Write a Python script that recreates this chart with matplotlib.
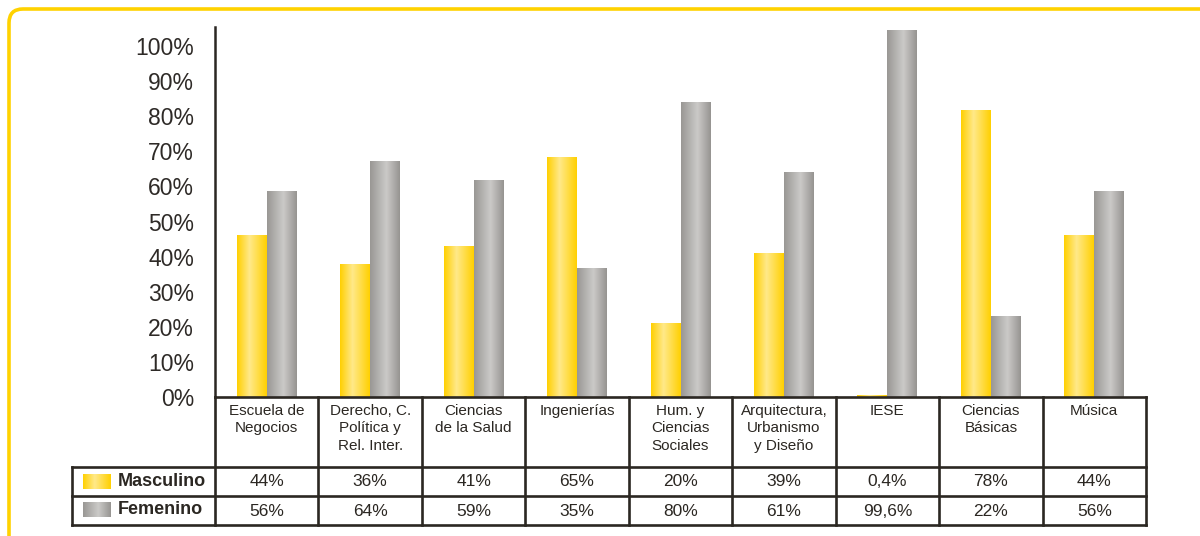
""" Distribución por sexo según facultad: barras con degradado y tabla de datos.
"""
import numpy as np
import matplotlib.pyplot as plt
from matplotlib.colors import LinearSegmentedColormap
from matplotlib.patches import FancyBboxPatch
from matplotlib.lines import Line2D
from matplotlib.transforms import IdentityTransform, blended_transform_factory

categories = ["Escuela de\nNegocios", "Derecho, C.\nPolítica y\nRel. Inter.",
              "Ciencias\nde la Salud", "Ingenierías", "Hum. y\nCiencias\nSociales",
              "Arquitectura,\nUrbanismo\ny Diseño", "IESE", "Ciencias\nBásicas", "Música"]
masculino = [44, 36, 41, 65, 20, 39, 0.4, 78, 44]
femenino = [56, 64, 59, 35, 80, 61, 99.6, 22, 56]
masculino_labels = ["44%", "36%", "41%", "65%", "20%", "39%", "0,4%", "78%", "44%"]
femenino_labels = ["56%", "64%", "59%", "35%", "80%", "61%", "99,6%", "22%", "56%"]
series_names = ["Masculino", "Femenino"]
y_ticks = [0, 10, 20, 30, 40, 50, 60, 70, 80, 90, 100]

# the original's tick labels sit a little low compared to the bars
TICK_SCALE = 1.048

W, H = 1200, 536
DARK = "#2b2722"
SANS = ["Liberation Sans", "DejaVu Sans"]

yellow_cmap = LinearSegmentedColormap.from_list(
    "amarillo", [(0, "#FFD000"), (0.42, "#FFE98A"), (1, "#FFD000")])
gray_cmap = LinearSegmentedColormap.from_list(
    "gris", [(0, "#999794"), (0.55, "#CBCAC8"), (1, "#969491")])
grad = np.linspace(0, 1, 256).reshape(1, -1)


def fy(y_px: float) -> float:
    """ Pixel row measured from the top -> figure fraction. """
    return 1 - y_px / H


def fill_gradient(ax, bars, cmap) -> None:
    """ Paint each bar with a horizontal cylinder gradient. """
    for bar in bars:
        x0, w, h = bar.get_x(), bar.get_width(), bar.get_height()
        ax.imshow(grad, extent=(x0, x0 + w, 0, h), aspect="auto",
                  cmap=cmap, zorder=2, interpolation="bilinear")


fig = plt.figure(figsize=(W / 100, H / 100), dpi=100)
fig.patch.set_facecolor("white")

# yellow rounded frame, running off the right and bottom edges
fig.patches.append(FancyBboxPatch(
    (9, -40), W + 40, H - 9 + 40, boxstyle="round,pad=0,rounding_size=14",
    transform=IdentityTransform(), facecolor="none", edgecolor="#FFD200",
    linewidth=2.6, zorder=0))

ax = fig.add_axes([215 / W, fy(397), 931 / W, 370 / H])
x = np.arange(len(categories))
bw = 0.29
m_bars = ax.bar(x - bw / 2, masculino, bw, color="none")
f_bars = ax.bar(x + bw / 2, femenino, bw, color="none")
fill_gradient(ax, m_bars, yellow_cmap)
fill_gradient(ax, f_bars, gray_cmap)

ax.set_xlim(-0.5, len(categories) - 0.5)
ax.set_ylim(0, 100.6)
ax.set_yticks([t / TICK_SCALE for t in y_ticks])
ax.set_yticklabels([f"{t}%" for t in y_ticks], fontsize=16.5,
                   family=SANS, color="#2e2a27")
ax.tick_params(axis="y", length=0, pad=15)
ax.set_xticks([])
for side in ("top", "right", "bottom"):
    ax.spines[side].set_visible(False)
ax.spines["left"].set_color(DARK)
ax.spines["left"].set_linewidth(1.8)
ax.patch.set_alpha(0)

# data table below the axis
col_px = [ax.transData.transform((i - 0.5, 0))[0] for i in range(len(categories) + 1)]
left_px = 72
row_px = [397, 467, 496, 525]


def hline(x0, x1, y):
    fig.add_artist(Line2D([x0 / W, x1 / W], [fy(y), fy(y)], color=DARK, lw=1.9,
                          solid_capstyle="projecting"))


def vline(xp, y0, y1):
    fig.add_artist(Line2D([xp / W, xp / W], [fy(y0), fy(y1)], color=DARK, lw=1.9,
                          solid_capstyle="projecting"))


hline(col_px[0], col_px[-1], row_px[0])
for y in row_px[1:]:
    hline(left_px, col_px[-1], y)
for xp in col_px:
    vline(xp, row_px[0], row_px[-1])
vline(left_px, row_px[1], row_px[-1])

cell = blended_transform_factory(ax.transData, fig.transFigure)
for i, name in enumerate(categories):
    fig.text(i, fy(404), name, transform=cell, ha="center", va="top",
             fontsize=11, family=SANS, color=DARK, linespacing=1.3)
    fig.text(i, fy(482), masculino_labels[i], transform=cell, ha="center",
             va="center", fontsize=12.5, family=SANS, color=DARK)
    fig.text(i, fy(511), femenino_labels[i], transform=cell, ha="center",
             va="center", fontsize=12.5, family=SANS, color=DARK)

# legend swatches inside the table
for (y0, y1), cmap, name in zip([(474, 489), (502, 517)], [yellow_cmap, gray_cmap], series_names):
    sw = fig.add_axes([83 / W, fy(y1), 27 / W, (y1 - y0) / H])
    sw.imshow(grad, aspect="auto", cmap=cmap, interpolation="bilinear")
    sw.axis("off")
    fig.text(118 / W, fy((y0 + y1) / 2 + 0.5), name, ha="left", va="center",
             fontsize=13, fontweight="bold", family=SANS, color=DARK)

fig.savefig("out.png", dpi=100)
